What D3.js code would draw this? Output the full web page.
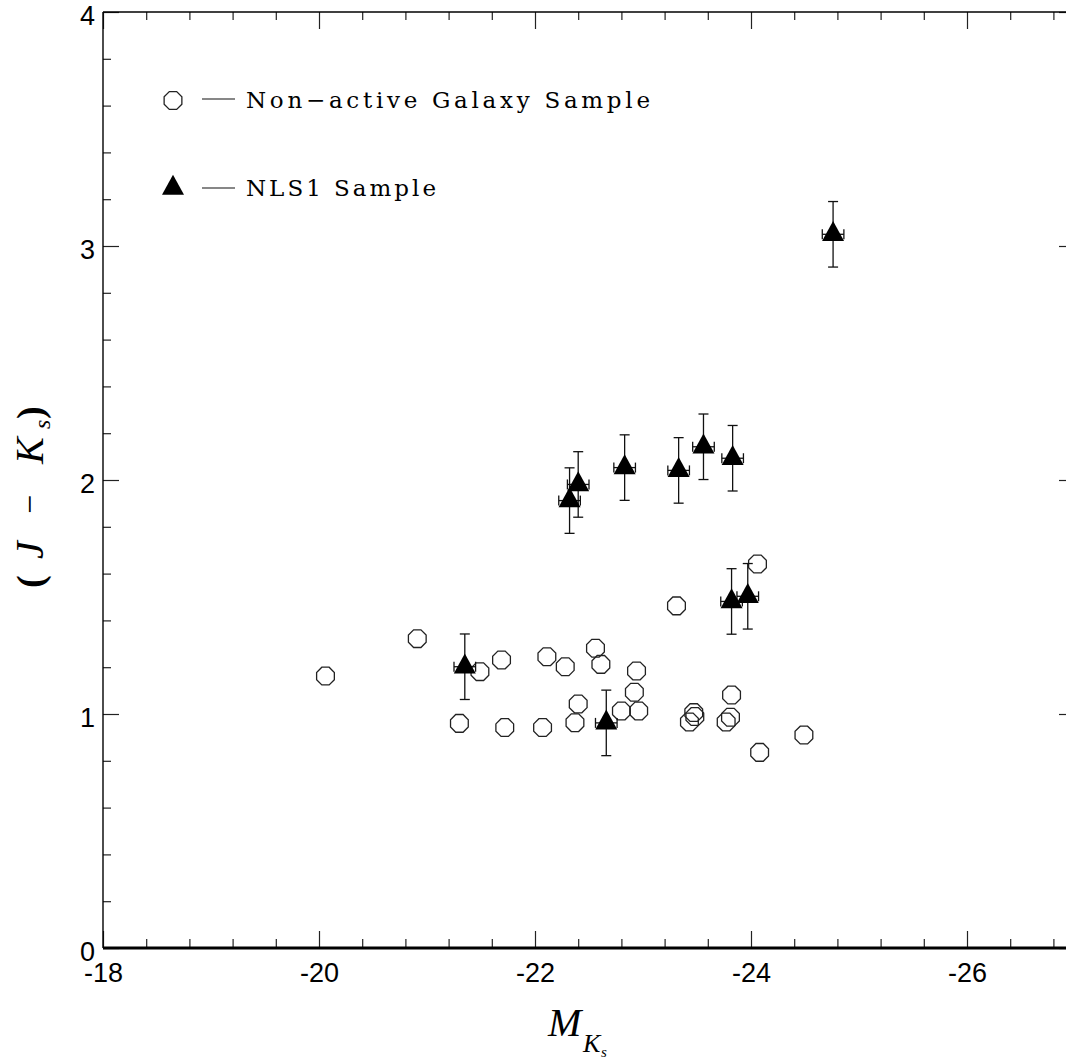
<!DOCTYPE html>
<html>
<head>
<meta charset="utf-8">
<script src="https://cdn.jsdelivr.net/npm/d3@7"></script>
<style>
  html, body { margin: 0; padding: 0; background: #fff; }
  svg { display: block; }
</style>
</head>
<body>
<svg id="chart" width="1066" height="1059"></svg>
<script>
// Non-active galaxy comparison sample: absolute K_s magnitude and J-K_s colour
const galaxyMK = [-20.06, -20.91, -21.30, -21.49, -21.69, -21.72, -22.07, -22.11, -22.28,
                  -22.37, -22.40, -22.56, -22.61, -22.80, -22.92, -22.94, -22.96, -23.43,
                  -23.47, -23.48, -23.31, -23.77, -23.81, -23.82, -24.06, -24.08, -24.49];
const galaxyJK = [1.162, 1.322, 0.960, 1.181, 1.231, 0.942, 0.942, 1.245, 1.202,
                  0.963, 1.043, 1.281, 1.212, 1.013, 1.093, 1.184, 1.013, 0.966,
                  1.006, 0.989, 1.462, 0.966, 0.986, 1.081, 1.641, 0.836, 0.910];

// NLS1 sample with uncertainties
const nlsMK    = [-22.32, -22.40, -22.83, -23.33, -23.56, -23.83, -23.82, -23.97, -24.76, -21.35, -22.66];
const nlsJK    = [1.912, 1.981, 2.053, 2.041, 2.142, 2.093, 1.481, 1.503, 3.050, 1.202, 0.962];
const nlsErrJK = [0.14, 0.14, 0.14, 0.14, 0.14, 0.14, 0.14, 0.14, 0.14, 0.14, 0.14];
const nlsErrMK = [0.10, 0.10, 0.10, 0.10, 0.10, 0.10, 0.10, 0.10, 0.10, 0.10, 0.10];

// Axis ticks
const xMajorTicks = [-18, -20, -22, -24, -26];
const yMajorTicks = [0, 1, 2, 3, 4];

const legendLabels = ["Non\u2212active Galaxy Sample", "NLS1 Sample"];

const svg = d3.select("#chart");
const plotL = 103, plotR = 1075, plotT = 12, plotB = 948;

const x = d3.scaleLinear().domain([-18, -27]).range([plotL, plotR]);
const y = d3.scaleLinear().domain([0, 4]).range([plotB, plotT]);

const xMinor = d3.range(0, 23).map(i => -18 - i * 0.4).filter(v => !xMajorTicks.some(t => Math.abs(t - v) < 1e-6));
const yMinor = d3.range(0, 21).map(i => i * 0.2).filter(v => !yMajorTicks.some(t => Math.abs(t - v) < 1e-6));

const plainFormat = d => String(d);   // hyphen-minus, as printed on the axes
const tickColor = "#222";
function styleAxis(g) {
  g.select(".domain").remove();
  g.selectAll(".tick line").attr("stroke", tickColor).attr("stroke-width", 1.2);
  g.selectAll("text").attr("font-family", "'Liberation Sans', Arial, sans-serif")
    .attr("font-size", 27).attr("fill", "#000");
}

// bottom axis: labelled majors, inward ticks
svg.append("g").attr("transform", `translate(0,${plotB})`)
  .call(d3.axisBottom(x).tickValues(xMajorTicks).tickSize(-17).tickPadding(15).tickFormat(plainFormat))
  .call(styleAxis);
svg.append("g").attr("transform", `translate(0,${plotB})`)
  .call(d3.axisBottom(x).tickValues(xMinor).tickSize(-9).tickFormat(""))
  .call(styleAxis);
// top axis
svg.append("g").attr("transform", `translate(0,${plotT})`)
  .call(d3.axisTop(x).tickValues(xMajorTicks).tickSize(-17).tickFormat(""))
  .call(styleAxis);
svg.append("g").attr("transform", `translate(0,${plotT})`)
  .call(d3.axisTop(x).tickValues(xMinor).tickSize(-8).tickFormat(""))
  .call(styleAxis);
// left axis
svg.append("g").attr("transform", `translate(${plotL},0)`)
  .call(d3.axisLeft(y).tickValues(yMajorTicks).tickSize(-16).tickPadding(8).tickFormat(plainFormat))
  .call(styleAxis)
  .call(g => g.selectAll("text").attr("dy", "0.45em"));
svg.append("g").attr("transform", `translate(${plotL},0)`)
  .call(d3.axisLeft(y).tickValues(yMinor).tickSize(-8).tickFormat(""))
  .call(styleAxis);
// right axis
svg.append("g").attr("transform", `translate(${plotR},0)`)
  .call(d3.axisRight(y).tickValues(yMajorTicks).tickSize(-16).tickFormat(""))
  .call(styleAxis);
svg.append("g").attr("transform", `translate(${plotR},0)`)
  .call(d3.axisRight(y).tickValues(yMinor).tickSize(-8).tickFormat(""))
  .call(styleAxis);

// frame lines
svg.append("line").attr("x1", plotL).attr("x2", plotL).attr("y1", plotT).attr("y2", plotB)
  .attr("stroke", "#000").attr("stroke-width", 1.4);
svg.append("line").attr("x1", plotL).attr("x2", plotR).attr("y1", plotT).attr("y2", plotT)
  .attr("stroke", "#000").attr("stroke-width", 1.4);
svg.append("line").attr("x1", plotR).attr("x2", plotR).attr("y1", plotT).attr("y2", plotB)
  .attr("stroke", "#000").attr("stroke-width", 1.4);
svg.append("line").attr("x1", plotL).attr("x2", plotR).attr("y1", plotB).attr("y2", plotB)
  .attr("stroke", "#000").attr("stroke-width", 3);

// marker shapes
const octR = 9.6;
const octagonPath = (() => {
  const pts = d3.range(8).map(i => {
    const a = Math.PI / 8 + i * Math.PI / 4;
    return [octR * Math.cos(a), octR * Math.sin(a)];
  });
  return "M" + pts.map(p => p.join(",")).join("L") + "Z";
})();
const triPath = "M0,-13.3L11,6.7L-11,6.7Z";

// non-active galaxies
const gal = galaxyMK.map((m, i) => ({ m, c: galaxyJK[i] }));
svg.append("g").selectAll("path").data(gal).join("path")
  .attr("d", octagonPath)
  .attr("transform", d => `translate(${x(d.m)},${y(d.c)})`)
  .attr("fill", "none").attr("stroke", "#222").attr("stroke-width", 1.3);

// NLS1 with error bars
const nls = nlsMK.map((m, i) => ({ m, c: nlsJK[i], ec: nlsErrJK[i], em: nlsErrMK[i] }));
const eg = svg.append("g").attr("stroke", "#111").attr("stroke-width", 1.3).attr("fill", "none");
const capW = 5;
nls.forEach(d => {
  const cx = x(d.m), cy = y(d.c), y0 = y(d.c - d.ec), y1 = y(d.c + d.ec);
  const x0 = x(d.m - d.em), x1 = x(d.m + d.em);
  eg.append("line").attr("x1", cx).attr("x2", cx).attr("y1", y0).attr("y2", y1);
  eg.append("line").attr("x1", cx - capW).attr("x2", cx + capW).attr("y1", y0).attr("y2", y0);
  eg.append("line").attr("x1", cx - capW).attr("x2", cx + capW).attr("y1", y1).attr("y2", y1);
  eg.append("line").attr("x1", x0).attr("x2", x1).attr("y1", cy).attr("y2", cy);
  eg.append("line").attr("x1", x0).attr("x2", x0).attr("y1", cy - capW).attr("y2", cy + capW);
  eg.append("line").attr("x1", x1).attr("x2", x1).attr("y1", cy - capW).attr("y2", cy + capW);
});
svg.append("g").selectAll("path").data(nls).join("path")
  .attr("d", triPath)
  .attr("transform", d => `translate(${x(d.m)},${y(d.c)})`)
  .attr("fill", "#000");

// legend
const legendFont = "'DejaVu Serif', 'Liberation Serif', serif";
const legend = svg.append("g");
legend.append("path").attr("d", octagonPath).attr("transform", "translate(173,100.5)")
  .attr("fill", "none").attr("stroke", "#222").attr("stroke-width", 1.3);
legend.append("line").attr("x1", 202).attr("x2", 235).attr("y1", 99).attr("y2", 99)
  .attr("stroke", "#111").attr("stroke-width", 1.2);
legend.append("text").attr("x", 246).attr("y", 108)
  .attr("font-family", legendFont).attr("font-size", 23)
  .attr("textLength", 404).attr("lengthAdjust", "spacing")
  .text(legendLabels[0]);
legend.append("path").attr("d", triPath).attr("transform", "translate(173,188)").attr("fill", "#000");
legend.append("line").attr("x1", 202).attr("x2", 235).attr("y1", 188).attr("y2", 188)
  .attr("stroke", "#111").attr("stroke-width", 1.2);
legend.append("text").attr("x", 246).attr("y", 196)
  .attr("font-family", legendFont).attr("font-size", 23)
  .attr("textLength", 190).attr("lengthAdjust", "spacing")
  .text(legendLabels[1]);

// x-axis title: M_{K_s}
const serif = "'Liberation Serif', 'Times New Roman', serif";
const xt = svg.append("g").attr("font-family", serif).attr("font-style", "italic").attr("fill", "#000");
xt.append("text").attr("x", 548).attr("y", 1036).attr("font-size", 40).text("M");
xt.append("text").attr("x", 583).attr("y", 1052).attr("font-size", 26).text("K");
xt.append("text").attr("x", 601).attr("y", 1057).attr("font-size", 15).text("s");

// y-axis title: (J − K_s), rotated
const yt = svg.append("g").attr("transform", "translate(43,0) rotate(-90)")
  .attr("font-family", serif).attr("fill", "#000");
yt.append("text").attr("x", -588).attr("y", 0).attr("font-size", 38).attr("font-weight", "bold").text("(");
yt.append("text").attr("x", -559).attr("y", 0).attr("font-size", 40).attr("font-style", "italic").text("J");
yt.append("text").attr("x", -514).attr("y", -2).attr("font-size", 34).text("\u2212");
yt.append("text").attr("x", -464).attr("y", 0).attr("font-size", 40).attr("font-style", "italic").text("K");
yt.append("text").attr("x", -429).attr("y", 7).attr("font-size", 24).attr("font-style", "italic").text("s");
yt.append("text").attr("x", -419).attr("y", 0).attr("font-size", 38).attr("font-weight", "bold").text(")");
</script>
</body>
</html>
